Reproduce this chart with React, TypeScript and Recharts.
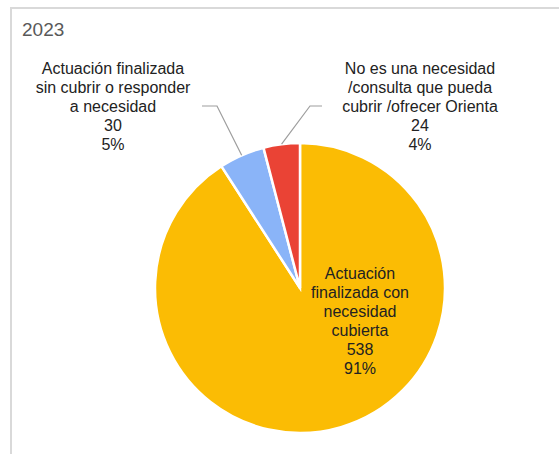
import React from 'react';
import { PieChart, Pie, Cell } from 'recharts';

// categories and values (2023)
const categories = [
  'Actuación finalizada con necesidad cubierta',
  'Actuación finalizada sin cubrir o responder a necesidad',
  'No es una necesidad /consulta que pueda cubrir /ofrecer Orienta',
];
const values = [538, 30, 24];
const labelLines = [
  ['Actuación', 'finalizada con', 'necesidad', 'cubierta'],
  ['Actuación finalizada', 'sin cubrir o responder', 'a necesidad'],
  ['No es una necesidad', '/consulta que pueda', 'cubrir /ofrecer Orienta'],
];
const colors = ['#FBBC04', '#8AB4F8', '#EA4335'];

const data = categories.map((name, i) => ({ name, value: values[i] }));

const RADIAN = Math.PI / 180;
const LINE_H = 19;

// label drawing: inside for the big slice, with leader lines for the two small ones
const SliceLabel = (props: any) => {
  const { cx, cy, midAngle, outerRadius, index, value, percent } = props;
  const lines = [...labelLines[index], String(value), `${Math.round(percent * 100)}%`];

  if (index === 0) {
    const tx = cx + 60;
    const mid = cy + 33;
    return (
      <g>
        {lines.map((t, i) => (
          <text key={i} x={tx} y={mid + (i - (lines.length - 1) / 2) * LINE_H}
            textAnchor="middle" dominantBaseline="central" fontSize={16} fill="#222">
            {t}
          </text>
        ))}
      </g>
    );
  }

  // point on the rim
  const sx = cx + outerRadius * Math.cos(-midAngle * RADIAN);
  const sy = cy + outerRadius * Math.sin(-midAngle * RADIAN);
  const ly = cy - 182;
  const elbowX = index === 1 ? cx - 83 : cx + 10;
  const endX = index === 1 ? cx - 98 : cx + 22;
  const tx = index === 1 ? cx - 187 : cx + 120;

  return (
    <g>
      <polyline points={`${sx},${sy} ${elbowX},${ly} ${endX},${ly}`} fill="none" stroke="#9e9e9e" strokeWidth={1.2} />
      {lines.map((t, i) => (
        <text key={i} x={tx} y={ly + (i - (lines.length - 1) / 2) * LINE_H}
          textAnchor="middle" dominantBaseline="central" fontSize={16} fill="#222">
          {t}
        </text>
      ))}
    </g>
  );
};

export default function App() {
  return (
    <div style={{ position: 'absolute', left: 0, top: 0, width: 559, height: 454, overflow: 'hidden', background: '#fff', fontFamily: '"Liberation Sans", Arial, sans-serif' }}>
      <div style={{ position: 'absolute', left: 10, top: 7, width: 620, height: 520, border: '2px solid #d9d9d9', boxSizing: 'border-box' }} />
      <div style={{ position: 'absolute', left: 22, top: 18, fontSize: 19, color: '#595959', lineHeight: '24px' }}>2023</div>
      <div style={{ position: 'absolute', left: 0, top: 0 }}>
        <PieChart width={559} height={454} margin={{ top: 0, right: 0, bottom: 0, left: 0 }} style={{ fontFamily: '"Liberation Sans", Arial, sans-serif' }}>
          <Pie
            data={data}
            dataKey="value"
            nameKey="name"
            cx={300}
            cy={288}
            outerRadius={145}
            startAngle={90}
            endAngle={-270}
            stroke="#ffffff"
            strokeWidth={2.5}
            label={SliceLabel}
            labelLine={false}
            isAnimationActive={false}
          >
            {data.map((d, i) => (
              <Cell key={d.name} fill={colors[i]} />
            ))}
          </Pie>
        </PieChart>
      </div>
    </div>
  );
}
